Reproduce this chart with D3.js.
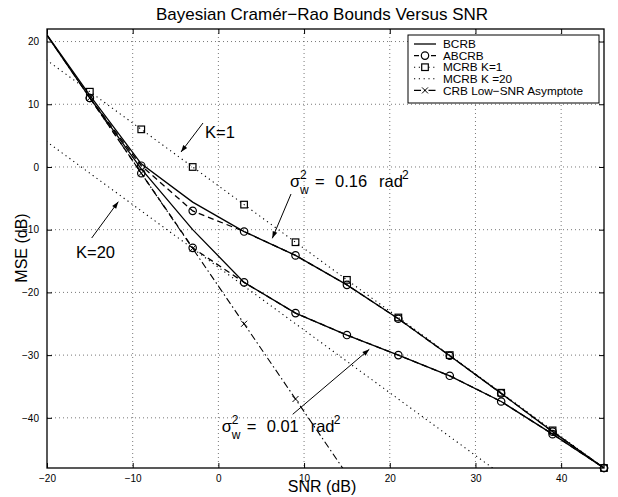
<!DOCTYPE html>
<html><head><meta charset="utf-8">
<script src="https://cdn.jsdelivr.net/npm/d3@7"></script>
<style>body{margin:0;background:#fff}svg{font-family:"Liberation Sans",Arial,sans-serif}</style>
</head><body><svg id="c" width="618" height="497"></svg>
<script>
// ---- data ----
const xTicks = [-20,-10,0,10,20,30,40];
const yTicks = [-40,-30,-20,-10,0,10,20];
const bcrbX = [-21,-15,-9,-3,3,9,15,21,27,33,39,45];
const bcrbHigh = [23,11.4,0.5,-5.6,-10.3,-14.1,-18.8,-24.2,-30.1,-36.1,-42.2,-48];
const bcrbLow  = [23,11.0,-0.3,-10.0,-18.4,-23.3,-26.8,-30.0,-33.3,-37.4,-42.6,-48];
const abcrbX = [-15,-9,-3,3,9,15,21,27,33,39,45];
const abcrbHigh = [11.0,0.2,-7.0,-10.3,-14.1,-18.8,-24.2,-30.1,-36.1,-42.2,-48];
const abcrbLow  = [11.0,-1.0,-12.9,-18.4,-23.3,-26.8,-30.0,-33.3,-37.4,-42.6,-48];
const mcrbX = [-21,-15,-9,-3,3,9,15,21,27,33,39,45];
const mcrbK1  = [18,12,6,0,-6,-12,-18,-24,-30,-36,-42,-48];
const mcrbK20 = [5,-1,-7,-13,-19,-25,-31,-37,-43,-49,-55,-61];
const crbX = [-21,-15,-9,-3,3,9,15];
const crbLow = [23,11,-1,-13,-25,-37,-49];
const legendLabels = ["BCRB","ABCRB","MCRB K=1","MCRB K =20","CRB Low\u2212SNR Asymptote"];

const svg = d3.select("#c");
const L=47,R=604,T=29,B=468;
const x = d3.scaleLinear().domain([-20,45]).range([L,R]);
const y = d3.scaleLinear().domain([-48,22]).range([B,T]);
const fmt = d => d3.format("d")(d).replace("-", "\u2212");

svg.append("defs").append("clipPath").attr("id","clip")
  .append("rect").attr("x",L).attr("y",T).attr("width",R-L).attr("height",B-T);

// grid
const g = svg.append("g");
g.selectAll(".gx").data(xTicks.filter(d=>d>-20)).join("line")
  .attr("x1",d=>x(d)).attr("x2",d=>x(d)).attr("y1",T).attr("y2",B)
  .attr("stroke","#555").attr("stroke-width",0.8).attr("stroke-dasharray","1,3");
g.selectAll(".gy").data(yTicks).join("line")
  .attr("y1",d=>y(d)).attr("y2",d=>y(d)).attr("x1",L).attr("x2",R)
  .attr("stroke","#555").attr("stroke-width",0.8).attr("stroke-dasharray","1,3");

const plot = svg.append("g").attr("clip-path","url(#clip)");
const line = d3.line().x(d=>x(d[0])).y(d=>y(d[1]));
const zip = (xs,ys)=>xs.map((v,i)=>[v,ys[i]]);
function drawLine(xs,ys,dash,w){
  plot.append("path").attr("d",line(zip(xs,ys))).attr("fill","none")
    .attr("stroke","#000").attr("stroke-width",w||1.3)
    .attr("stroke-dasharray",dash||null);
}
drawLine(mcrbX,mcrbK1,"1.2,3.6",1.1);
drawLine(mcrbX,mcrbK20,"1.2,3.6",1.1);
drawLine(crbX,crbLow,"7,3,1.5,3",1.1);
drawLine(abcrbX,abcrbHigh,"6,4");
drawLine(abcrbX,abcrbLow,"6,4");
drawLine(bcrbX,bcrbHigh);
drawLine(bcrbX,bcrbLow);

const inDom = p => p[0]>=-20 && p[0]<=45 && p[1]>=-48 && p[1]<=22;
const mk = svg.append("g");
function circles(xs,ys){
  mk.selectAll(null).data(zip(xs,ys).filter(inDom)).join("circle")
    .attr("cx",d=>x(d[0])).attr("cy",d=>y(d[1])).attr("r",3.7)
    .attr("fill","none").attr("stroke","#000").attr("stroke-width",1.2);
}
function squares(xs,ys){
  mk.selectAll(null).data(zip(xs,ys).filter(inDom)).join("rect")
    .attr("x",d=>x(d[0])-3.3).attr("y",d=>y(d[1])-3.3).attr("width",6.6).attr("height",6.6)
    .attr("fill","none").attr("stroke","#000").attr("stroke-width",1.2);
}
function crosses(xs,ys){
  mk.selectAll(null).data(zip(xs,ys).filter(inDom)).join("path")
    .attr("d",d=>{const cx=x(d[0]),cy=y(d[1]),s=3;return `M${cx-s},${cy-s}L${cx+s},${cy+s}M${cx-s},${cy+s}L${cx+s},${cy-s}`;})
    .attr("stroke","#000").attr("stroke-width",1);
}
squares(mcrbX,mcrbK1);
circles(abcrbX,abcrbHigh);
circles(abcrbX,abcrbLow);
crosses(crbX,crbLow);

// axes
const ax = svg.append("g").style("font-size","12px");
ax.append("g").attr("transform",`translate(0,${B})`)
  .call(d3.axisBottom(x).tickValues(xTicks).tickSizeInner(-5).tickSizeOuter(0).tickPadding(7).tickFormat(fmt));
ax.append("g").attr("transform",`translate(0,${T})`)
  .call(d3.axisTop(x).tickValues(xTicks).tickSizeInner(-5).tickSizeOuter(0).tickFormat(""));
ax.append("g").attr("transform",`translate(${L},0)`)
  .call(d3.axisLeft(y).tickValues(yTicks).tickSizeInner(-5).tickSizeOuter(0).tickPadding(8).tickFormat(fmt));
ax.append("g").attr("transform",`translate(${R},0)`)
  .call(d3.axisRight(y).tickValues(yTicks).tickSizeInner(-5).tickSizeOuter(0).tickFormat(""));
ax.selectAll(".domain").remove();
ax.selectAll("text").attr("fill","#000").style("font-family","'Liberation Sans',Arial,sans-serif");
svg.append("rect").attr("x",L).attr("y",T).attr("width",R-L).attr("height",B-T)
  .attr("fill","none").attr("stroke","#000").attr("stroke-width",1.3);

// titles
svg.append("text").attr("x",322).attr("y",20).attr("text-anchor","middle")
  .style("font-size","17px").text("Bayesian Cram\u00e9r\u2212Rao Bounds Versus SNR");
svg.append("text").attr("x",322).attr("y",492).attr("text-anchor","middle")
  .style("font-size","16px").text("SNR (dB)");
svg.append("text").attr("transform","translate(27,248) rotate(-90)").attr("text-anchor","middle")
  .style("font-size","16px").text("MSE (dB)");

// legend
const lg = svg.append("g");
lg.append("rect").attr("x",408).attr("y",35).attr("width",191).attr("height",68)
  .attr("fill","#fff").attr("stroke","#000").attr("stroke-width",1);
const ly = i => 44 + i*11.6;
legendLabels.forEach((t,i)=>{
  lg.append("text").attr("x",443).attr("y",ly(i)+4.2).style("font-size","11.8px").text(t);
});
const sx1=414, sx2=436, sm=425;
lg.append("line").attr("x1",sx1).attr("x2",sx2).attr("y1",ly(0)).attr("y2",ly(0)).attr("stroke","#000").attr("stroke-width",1.3);
lg.append("line").attr("x1",sx1).attr("x2",sx2).attr("y1",ly(1)).attr("y2",ly(1)).attr("stroke","#000").attr("stroke-width",1.3).attr("stroke-dasharray","5,12");
lg.append("circle").attr("cx",sm).attr("cy",ly(1)).attr("r",3.7).attr("fill","#fff").attr("stroke","#000").attr("stroke-width",1.2);
lg.append("line").attr("x1",sx1).attr("x2",sx2).attr("y1",ly(2)).attr("y2",ly(2)).attr("stroke","#000").attr("stroke-width",1.1).attr("stroke-dasharray","1.2,3.6");
lg.append("rect").attr("x",sm-3.3).attr("y",ly(2)-3.3).attr("width",6.6).attr("height",6.6).attr("fill","#fff").attr("stroke","#000").attr("stroke-width",1.2);
lg.append("line").attr("x1",sx1).attr("x2",sx2).attr("y1",ly(3)).attr("y2",ly(3)).attr("stroke","#000").attr("stroke-width",1.1).attr("stroke-dasharray","1.2,3.6");
lg.append("line").attr("x1",sx1).attr("x2",sx2).attr("y1",ly(4)).attr("y2",ly(4)).attr("stroke","#000").attr("stroke-width",1.1).attr("stroke-dasharray","7,3,1.5,3");
lg.append("path").attr("d",`M${sm-3},${ly(4)-3}L${sm+3},${ly(4)+3}M${sm-3},${ly(4)+3}L${sm+3},${ly(4)-3}`).attr("stroke","#000").attr("stroke-width",1);

// annotations
const an = svg.append("g").style("font-size","16.5px");
svg.append("defs").append("marker").attr("id","ah").attr("viewBox","0 0 10 10").attr("refX",10).attr("refY",5)
  .attr("markerWidth",9).attr("markerHeight",7).attr("orient","auto-start-reverse").attr("markerUnits","userSpaceOnUse")
  .append("path").attr("d","M0,1.5L10,5L0,8.5Z").attr("fill","#000");
function arrow(x1,y1,x2,y2){
  an.append("line").attr("x1",x1).attr("y1",y1).attr("x2",x2).attr("y2",y2)
    .attr("stroke","#000").attr("stroke-width",1).attr("marker-end","url(#ah)");
}
function sigma(x0,yb,val){
  an.append("text").attr("x",x0).attr("y",yb).text("\u03c3");
  an.append("text").attr("x",x0+10).attr("y",yb-8).style("font-size","12px").text("2");
  an.append("text").attr("x",x0+10).attr("y",yb+7).style("font-size","12px").text("w");
  an.append("text").attr("x",x0+25).attr("y",yb).text("=");
  an.append("text").attr("x",x0+45).attr("y",yb).text(val);
  an.append("text").attr("x",x0+89).attr("y",yb).text("rad");
  an.append("text").attr("x",x0+112).attr("y",yb-8).style("font-size","12px").text("2");
}
sigma(290,187,"0.16");
arrow(291,194,272.3,238.3);
sigma(221.7,432,"0.01");
arrow(292.7,414.3,369.3,349.3);
an.append("text").attr("x",205).attr("y",138).text("K=1");
arrow(203,123,181,152);
an.append("text").attr("x",76).attr("y",258).text("K=20");
arrow(91.7,238,118.3,201.7);
</script></body></html>
